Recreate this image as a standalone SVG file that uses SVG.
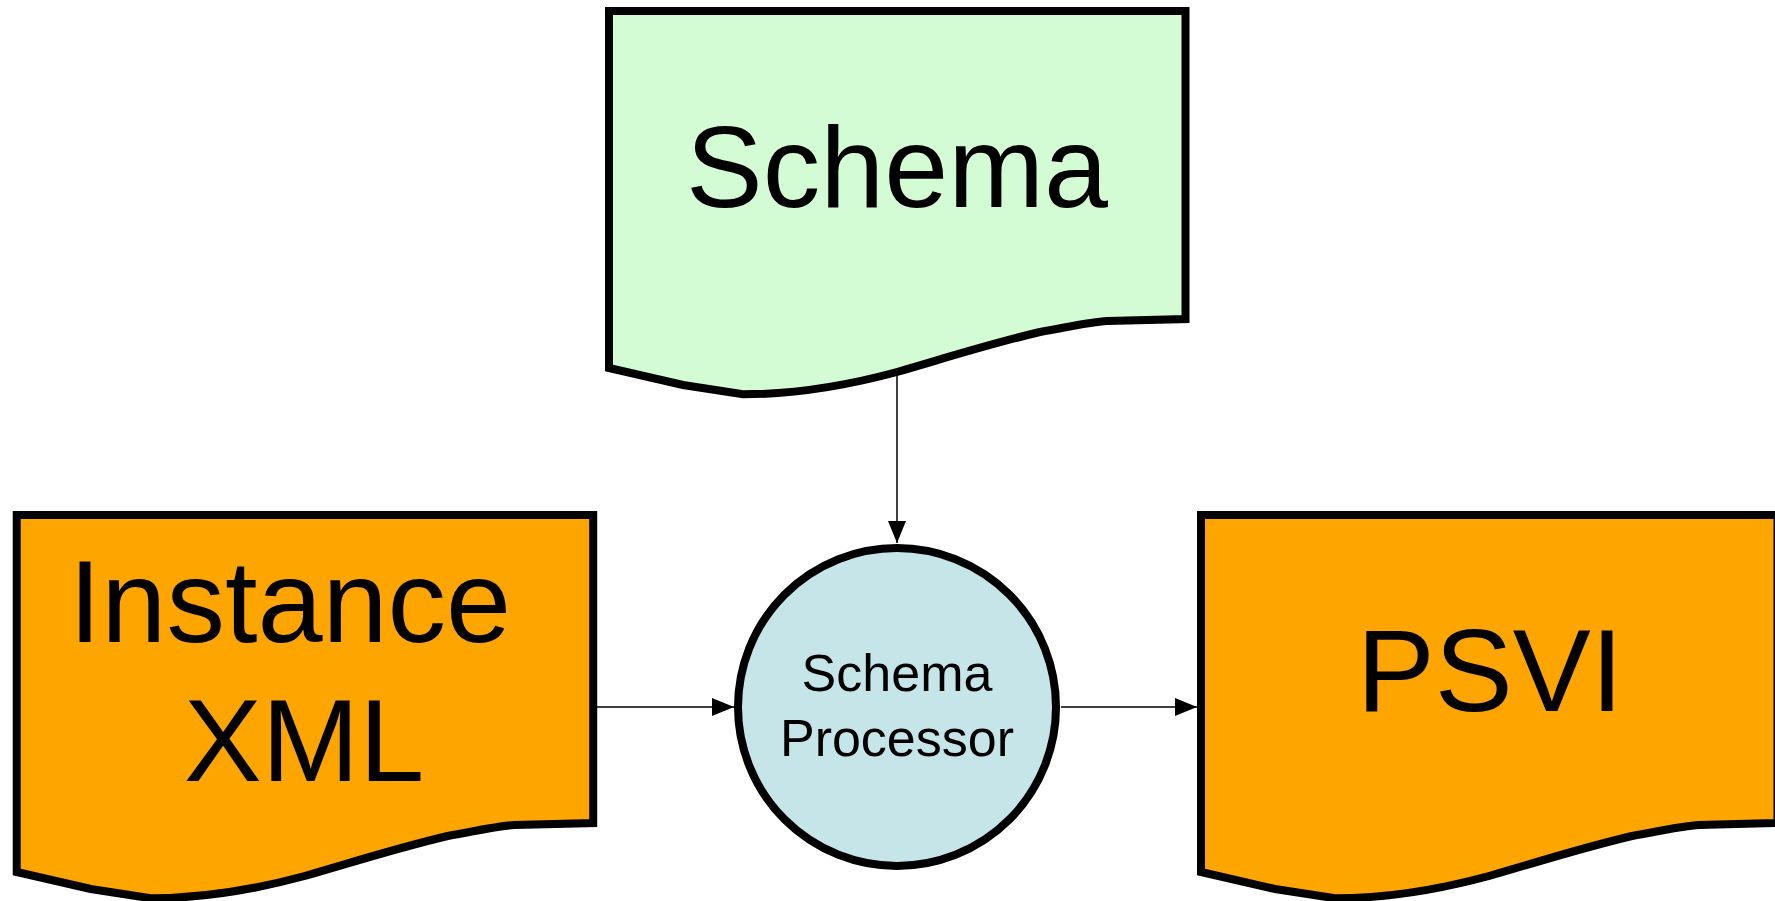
<svg xmlns="http://www.w3.org/2000/svg" xmlns:xlink="http://www.w3.org/1999/xlink" width="1775" height="901" viewBox="0 0 1775 901">
<style>
.doc{stroke:#000;stroke-width:8;stroke-linejoin:miter}
.green{fill:#D4FCD4}
.orange{fill:#FFA500}
.proc{fill:#C6E5E9;stroke:#000;stroke-width:8}
.big{font-family:"Liberation Sans",Arial,sans-serif;font-size:117px;fill:#000;text-anchor:middle}
.small{font-family:"Liberation Sans",Arial,sans-serif;font-size:52px;fill:#000;text-anchor:middle}
.conn{stroke:#000;stroke-width:1.5;fill:none;marker-end:url(#arrow)}
</style>
<defs>
<path id="docShape" d="M0,0 L576.5,0 L576.5,308 L498,310 C480,311 460,316 431,321 C380,333 330,349 288,361 C240,374 190,383.3 134,383.3 L74,374 L0,357 Z"/>
<marker id="arrow" markerUnits="userSpaceOnUse" markerWidth="22" markerHeight="18" refX="22" refY="9" orient="auto">
<path d="M0,0 L22,9 L0,18 Z" fill="#000"/>
</marker>
</defs>
<g id="connectors">
<path class="conn" d="M897,372 L897,543"/>
<path class="conn" d="M597,707 L734,707"/>
<path class="conn" d="M1061,707 L1197,707"/>
</g>
<g id="schema">
<use xlink:href="#docShape" class="doc green" transform="translate(609,11)"/>
<text class="big" x="897" y="207" style="font-size:115px">Schema</text>
</g>
<g id="instance">
<use xlink:href="#docShape" class="doc orange" transform="translate(16.7,515)"/>
<text class="big" x="290" y="642">Instance</text>
<text class="big" x="304" y="781">XML</text>
</g>
<g id="processor">
<circle class="proc" cx="897" cy="707" r="159"/>
<text class="small" x="897" y="691">Schema</text>
<text class="small" x="897" y="756">Processor</text>
</g>
<g id="psvi">
<use xlink:href="#docShape" class="doc orange" transform="translate(1201,515)"/>
<text class="big" x="1490" y="711">PSVI</text>
</g>
</svg>
